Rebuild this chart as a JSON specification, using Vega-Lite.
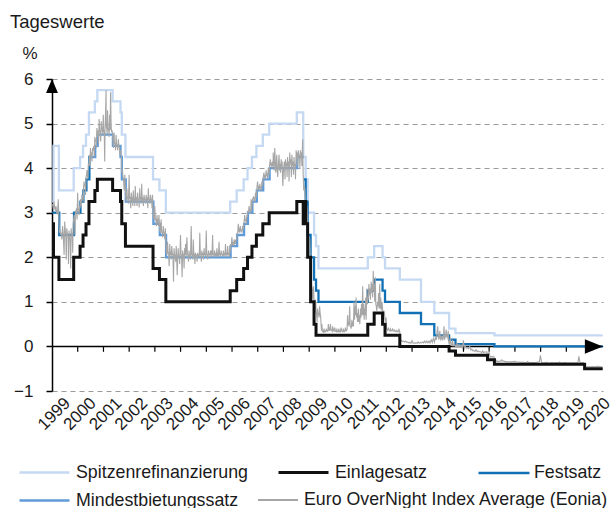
{
  "$schema": "https://vega.github.io/schema/vega-lite/v6.json",
  "width": 551,
  "height": 312,
  "autosize": {"type": "none"},
  "padding": {"left": 52, "top": 79, "right": 10, "bottom": 117},
  "config": {
    "font": "Liberation Sans",
    "view": {"stroke": null},
    "axis": {"labelFont": "Liberation Sans", "titleFont": "Liberation Sans", "labelColor": "#1a1a1a", "titleColor": "#1a1a1a"},
    "legend": {"labelFont": "Liberation Sans", "labelColor": "#1a1a1a"}
  },
  "title": {"text": "Tageswerte", "anchor": "start", "frame": "group", "fontSize": 18.5, "fontWeight": "normal", "color": "#1a1a1a", "dx": -42, "offset": 13},
  "datasets": {
    "steps": [
      {"d": "1999-01-04", "k": "Spitzenrefinanzierung", "v": 3.25},
      {"d": "1999-01-22", "k": "Spitzenrefinanzierung", "v": 4.5},
      {"d": "1999-04-09", "k": "Spitzenrefinanzierung", "v": 3.5},
      {"d": "1999-11-05", "k": "Spitzenrefinanzierung", "v": 4.0},
      {"d": "2000-02-04", "k": "Spitzenrefinanzierung", "v": 4.25},
      {"d": "2000-03-17", "k": "Spitzenrefinanzierung", "v": 4.5},
      {"d": "2000-04-28", "k": "Spitzenrefinanzierung", "v": 4.75},
      {"d": "2000-06-09", "k": "Spitzenrefinanzierung", "v": 5.25},
      {"d": "2000-09-01", "k": "Spitzenrefinanzierung", "v": 5.5},
      {"d": "2000-10-06", "k": "Spitzenrefinanzierung", "v": 5.75},
      {"d": "2001-05-11", "k": "Spitzenrefinanzierung", "v": 5.5},
      {"d": "2001-08-31", "k": "Spitzenrefinanzierung", "v": 5.25},
      {"d": "2001-09-18", "k": "Spitzenrefinanzierung", "v": 4.75},
      {"d": "2001-11-09", "k": "Spitzenrefinanzierung", "v": 4.25},
      {"d": "2002-12-06", "k": "Spitzenrefinanzierung", "v": 3.75},
      {"d": "2003-03-07", "k": "Spitzenrefinanzierung", "v": 3.5},
      {"d": "2003-06-06", "k": "Spitzenrefinanzierung", "v": 3.0},
      {"d": "2005-12-06", "k": "Spitzenrefinanzierung", "v": 3.25},
      {"d": "2006-03-08", "k": "Spitzenrefinanzierung", "v": 3.5},
      {"d": "2006-06-15", "k": "Spitzenrefinanzierung", "v": 3.75},
      {"d": "2006-08-09", "k": "Spitzenrefinanzierung", "v": 4.0},
      {"d": "2006-10-11", "k": "Spitzenrefinanzierung", "v": 4.25},
      {"d": "2006-12-13", "k": "Spitzenrefinanzierung", "v": 4.5},
      {"d": "2007-03-14", "k": "Spitzenrefinanzierung", "v": 4.75},
      {"d": "2007-06-13", "k": "Spitzenrefinanzierung", "v": 5.0},
      {"d": "2008-07-09", "k": "Spitzenrefinanzierung", "v": 5.25},
      {"d": "2008-10-08", "k": "Spitzenrefinanzierung", "v": 4.75},
      {"d": "2008-10-09", "k": "Spitzenrefinanzierung", "v": 4.25},
      {"d": "2008-11-12", "k": "Spitzenrefinanzierung", "v": 3.75},
      {"d": "2008-12-10", "k": "Spitzenrefinanzierung", "v": 3.0},
      {"d": "2009-03-11", "k": "Spitzenrefinanzierung", "v": 2.5},
      {"d": "2009-04-08", "k": "Spitzenrefinanzierung", "v": 2.25},
      {"d": "2009-05-13", "k": "Spitzenrefinanzierung", "v": 1.75},
      {"d": "2011-04-13", "k": "Spitzenrefinanzierung", "v": 2.0},
      {"d": "2011-07-13", "k": "Spitzenrefinanzierung", "v": 2.25},
      {"d": "2011-11-09", "k": "Spitzenrefinanzierung", "v": 2.0},
      {"d": "2011-12-14", "k": "Spitzenrefinanzierung", "v": 1.75},
      {"d": "2012-07-11", "k": "Spitzenrefinanzierung", "v": 1.5},
      {"d": "2013-05-08", "k": "Spitzenrefinanzierung", "v": 1.0},
      {"d": "2013-11-13", "k": "Spitzenrefinanzierung", "v": 0.75},
      {"d": "2014-06-11", "k": "Spitzenrefinanzierung", "v": 0.4},
      {"d": "2014-09-10", "k": "Spitzenrefinanzierung", "v": 0.3},
      {"d": "2016-03-16", "k": "Spitzenrefinanzierung", "v": 0.25},
      {"d": "2020-06-01", "k": "Spitzenrefinanzierung", "v": 0.25},
      {"d": "1999-01-04", "k": "Festsatz", "v": 3.0},
      {"d": "1999-04-14", "k": "Festsatz", "v": 2.5},
      {"d": "1999-11-10", "k": "Festsatz", "v": 3.0},
      {"d": "2000-02-09", "k": "Festsatz", "v": 3.25},
      {"d": "2000-03-22", "k": "Festsatz", "v": 3.5},
      {"d": "2000-05-04", "k": "Festsatz", "v": 3.75},
      {"d": "2000-06-15", "k": "Festsatz", "v": 4.25},
      {"d": "2000-06-28", "k": "Festsatz", "v": 4.25},
      {"d": "2000-06-29", "k": "Festsatz", "v": null},
      {"d": "2008-10-15", "k": "Festsatz", "v": 3.75},
      {"d": "2008-11-12", "k": "Festsatz", "v": 3.25},
      {"d": "2008-12-10", "k": "Festsatz", "v": 2.5},
      {"d": "2009-01-21", "k": "Festsatz", "v": 2.0},
      {"d": "2009-03-11", "k": "Festsatz", "v": 1.5},
      {"d": "2009-04-08", "k": "Festsatz", "v": 1.25},
      {"d": "2009-05-13", "k": "Festsatz", "v": 1.0},
      {"d": "2011-04-13", "k": "Festsatz", "v": 1.25},
      {"d": "2011-07-13", "k": "Festsatz", "v": 1.5},
      {"d": "2011-11-09", "k": "Festsatz", "v": 1.25},
      {"d": "2011-12-14", "k": "Festsatz", "v": 1.0},
      {"d": "2012-07-11", "k": "Festsatz", "v": 0.75},
      {"d": "2013-05-08", "k": "Festsatz", "v": 0.5},
      {"d": "2013-11-13", "k": "Festsatz", "v": 0.25},
      {"d": "2014-06-11", "k": "Festsatz", "v": 0.15},
      {"d": "2014-09-10", "k": "Festsatz", "v": 0.05},
      {"d": "2016-03-16", "k": "Festsatz", "v": 0.0},
      {"d": "2020-06-01", "k": "Festsatz", "v": 0.0},
      {"d": "1999-01-04", "k": "Einlagesatz", "v": 2.75},
      {"d": "1999-01-22", "k": "Einlagesatz", "v": 2.0},
      {"d": "1999-04-09", "k": "Einlagesatz", "v": 1.5},
      {"d": "1999-11-05", "k": "Einlagesatz", "v": 2.0},
      {"d": "2000-02-04", "k": "Einlagesatz", "v": 2.25},
      {"d": "2000-03-17", "k": "Einlagesatz", "v": 2.5},
      {"d": "2000-04-28", "k": "Einlagesatz", "v": 2.75},
      {"d": "2000-06-09", "k": "Einlagesatz", "v": 3.25},
      {"d": "2000-09-01", "k": "Einlagesatz", "v": 3.5},
      {"d": "2000-10-06", "k": "Einlagesatz", "v": 3.75},
      {"d": "2001-05-11", "k": "Einlagesatz", "v": 3.5},
      {"d": "2001-08-31", "k": "Einlagesatz", "v": 3.25},
      {"d": "2001-09-18", "k": "Einlagesatz", "v": 2.75},
      {"d": "2001-11-09", "k": "Einlagesatz", "v": 2.25},
      {"d": "2002-12-06", "k": "Einlagesatz", "v": 1.75},
      {"d": "2003-03-07", "k": "Einlagesatz", "v": 1.5},
      {"d": "2003-06-06", "k": "Einlagesatz", "v": 1.0},
      {"d": "2005-12-06", "k": "Einlagesatz", "v": 1.25},
      {"d": "2006-03-08", "k": "Einlagesatz", "v": 1.5},
      {"d": "2006-06-15", "k": "Einlagesatz", "v": 1.75},
      {"d": "2006-08-09", "k": "Einlagesatz", "v": 2.0},
      {"d": "2006-10-11", "k": "Einlagesatz", "v": 2.25},
      {"d": "2006-12-13", "k": "Einlagesatz", "v": 2.5},
      {"d": "2007-03-14", "k": "Einlagesatz", "v": 2.75},
      {"d": "2007-06-13", "k": "Einlagesatz", "v": 3.0},
      {"d": "2008-07-09", "k": "Einlagesatz", "v": 3.25},
      {"d": "2008-10-08", "k": "Einlagesatz", "v": 2.75},
      {"d": "2008-10-09", "k": "Einlagesatz", "v": 3.25},
      {"d": "2008-11-12", "k": "Einlagesatz", "v": 2.75},
      {"d": "2008-12-10", "k": "Einlagesatz", "v": 2.0},
      {"d": "2009-01-21", "k": "Einlagesatz", "v": 1.0},
      {"d": "2009-03-11", "k": "Einlagesatz", "v": 0.5},
      {"d": "2009-04-08", "k": "Einlagesatz", "v": 0.25},
      {"d": "2011-04-13", "k": "Einlagesatz", "v": 0.5},
      {"d": "2011-07-13", "k": "Einlagesatz", "v": 0.75},
      {"d": "2011-11-09", "k": "Einlagesatz", "v": 0.5},
      {"d": "2011-12-14", "k": "Einlagesatz", "v": 0.25},
      {"d": "2012-07-11", "k": "Einlagesatz", "v": 0.0},
      {"d": "2014-06-11", "k": "Einlagesatz", "v": -0.1},
      {"d": "2014-09-10", "k": "Einlagesatz", "v": -0.2},
      {"d": "2015-12-09", "k": "Einlagesatz", "v": -0.3},
      {"d": "2016-03-16", "k": "Einlagesatz", "v": -0.4},
      {"d": "2019-09-18", "k": "Einlagesatz", "v": -0.5},
      {"d": "2020-06-01", "k": "Einlagesatz", "v": -0.5},
      {"d": "2000-06-28", "k": "Mindestbietungssatz", "v": 4.25},
      {"d": "2000-09-06", "k": "Mindestbietungssatz", "v": 4.5},
      {"d": "2000-10-11", "k": "Mindestbietungssatz", "v": 4.75},
      {"d": "2001-05-15", "k": "Mindestbietungssatz", "v": 4.5},
      {"d": "2001-08-31", "k": "Mindestbietungssatz", "v": 4.25},
      {"d": "2001-09-19", "k": "Mindestbietungssatz", "v": 3.75},
      {"d": "2001-11-14", "k": "Mindestbietungssatz", "v": 3.25},
      {"d": "2002-12-11", "k": "Mindestbietungssatz", "v": 2.75},
      {"d": "2003-03-12", "k": "Mindestbietungssatz", "v": 2.5},
      {"d": "2003-06-09", "k": "Mindestbietungssatz", "v": 2.0},
      {"d": "2005-12-12", "k": "Mindestbietungssatz", "v": 2.25},
      {"d": "2006-03-14", "k": "Mindestbietungssatz", "v": 2.5},
      {"d": "2006-06-21", "k": "Mindestbietungssatz", "v": 2.75},
      {"d": "2006-08-15", "k": "Mindestbietungssatz", "v": 3.0},
      {"d": "2006-10-17", "k": "Mindestbietungssatz", "v": 3.25},
      {"d": "2006-12-19", "k": "Mindestbietungssatz", "v": 3.5},
      {"d": "2007-03-20", "k": "Mindestbietungssatz", "v": 3.75},
      {"d": "2007-06-19", "k": "Mindestbietungssatz", "v": 4.0},
      {"d": "2008-07-15", "k": "Mindestbietungssatz", "v": 4.25},
      {"d": "2008-10-15", "k": "Mindestbietungssatz", "v": 4.25}
    ],
    "eonia": [
      {"d":"1999-01-04","v":3.2},{"d":"1999-01-13","v":3.15},{"d":"1999-01-22","v":3.05},{"d":"1999-01-29","v":3.25},
      {"d":"1999-02-09","v":3.1},{"d":"1999-02-19","v":3.05},{"d":"1999-02-26","v":3.15},{"d":"1999-03-09","v":3.0},
      {"d":"1999-03-19","v":2.98},{"d":"1999-03-31","v":3.3},{"d":"1999-04-09","v":2.85},{"d":"1999-04-16","v":2.55},
      {"d":"1999-04-23","v":2.62},{"d":"1999-04-30","v":2.5},{"d":"1999-05-12","v":2.55},{"d":"1999-05-21","v":2.4},
      {"d":"1999-05-31","v":2.7},{"d":"1999-06-09","v":2.55},{"d":"1999-06-22","v":2.05},{"d":"1999-06-30","v":2.8},
      {"d":"1999-07-09","v":2.6},{"d":"1999-07-16","v":2.5},{"d":"1999-07-23","v":1.95},{"d":"1999-07-30","v":2.65},
      {"d":"1999-08-10","v":2.5},{"d":"1999-08-18","v":2.45},{"d":"1999-08-23","v":1.85},{"d":"1999-08-31","v":2.6},
      {"d":"1999-09-08","v":2.45},{"d":"1999-09-15","v":2.4},{"d":"1999-09-23","v":1.75},{"d":"1999-09-30","v":2.65},
      {"d":"1999-10-08","v":2.45},{"d":"1999-10-15","v":2.55},{"d":"1999-10-22","v":2.1},{"d":"1999-10-29","v":2.75},
      {"d":"1999-11-05","v":2.85},{"d":"1999-11-12","v":2.95},{"d":"1999-11-19","v":2.9},{"d":"1999-11-23","v":2.5},
      {"d":"1999-11-30","v":3.05},{"d":"1999-12-08","v":3.0},{"d":"1999-12-15","v":3.1},{"d":"1999-12-23","v":2.85},
      {"d":"1999-12-31","v":3.45},
      {"d":"2000-01-07","v":3.1},{"d":"2000-01-14","v":3.05},{"d":"2000-01-21","v":2.95},{"d":"2000-01-28","v":3.15},
      {"d":"2000-02-04","v":3.1},{"d":"2000-02-11","v":3.3},{"d":"2000-02-23","v":3.15},{"d":"2000-02-29","v":3.4},
      {"d":"2000-03-10","v":3.35},{"d":"2000-03-20","v":3.25},{"d":"2000-03-24","v":3.55},{"d":"2000-03-31","v":3.7},
      {"d":"2000-04-07","v":3.6},{"d":"2000-04-14","v":3.65},{"d":"2000-04-21","v":3.4},{"d":"2000-04-28","v":3.8},
      {"d":"2000-05-05","v":3.85},{"d":"2000-05-12","v":3.95},{"d":"2000-05-23","v":3.75},{"d":"2000-05-31","v":4.1},
      {"d":"2000-06-08","v":4.05},{"d":"2000-06-16","v":4.3},{"d":"2000-06-23","v":4.05},{"d":"2000-06-30","v":4.45},
      {"d":"2000-07-07","v":4.3},{"d":"2000-07-14","v":4.35},{"d":"2000-07-21","v":4.15},{"d":"2000-07-31","v":4.45},
      {"d":"2000-08-08","v":4.4},{"d":"2000-08-18","v":4.5},{"d":"2000-08-23","v":4.25},{"d":"2000-08-31","v":4.7},
      {"d":"2000-09-08","v":4.6},{"d":"2000-09-15","v":4.65},{"d":"2000-09-22","v":4.45},{"d":"2000-09-29","v":4.9},
      {"d":"2000-10-06","v":4.7},{"d":"2000-10-13","v":4.8},{"d":"2000-10-20","v":4.85},{"d":"2000-10-24","v":4.55},
      {"d":"2000-10-31","v":5.1},{"d":"2000-11-08","v":4.85},{"d":"2000-11-15","v":4.8},{"d":"2000-11-23","v":4.6},
      {"d":"2000-11-30","v":5.05},{"d":"2000-12-08","v":4.9},{"d":"2000-12-15","v":4.85},{"d":"2000-12-22","v":4.75},
      {"d":"2000-12-29","v":5.2},
      {"d":"2001-01-05","v":4.85},{"d":"2001-01-12","v":4.8},{"d":"2001-01-19","v":4.15},{"d":"2001-01-23","v":4.85},
      {"d":"2001-01-31","v":5.25},{"d":"2001-02-07","v":5.75},{"d":"2001-02-09","v":4.95},{"d":"2001-02-16","v":4.9},
      {"d":"2001-02-23","v":4.75},{"d":"2001-02-28","v":5.3},{"d":"2001-03-09","v":4.85},{"d":"2001-03-16","v":4.9},
      {"d":"2001-03-23","v":4.7},{"d":"2001-03-30","v":5.2},{"d":"2001-04-06","v":4.85},{"d":"2001-04-12","v":5.7},
      {"d":"2001-04-20","v":4.95},{"d":"2001-04-27","v":4.8},{"d":"2001-05-04","v":4.85},{"d":"2001-05-11","v":4.75},
      {"d":"2001-05-18","v":4.6},{"d":"2001-05-23","v":4.45},{"d":"2001-05-31","v":4.8},{"d":"2001-06-08","v":4.55},
      {"d":"2001-06-15","v":4.55},{"d":"2001-06-22","v":4.4},{"d":"2001-06-29","v":4.75},{"d":"2001-07-06","v":4.55},
      {"d":"2001-07-13","v":4.52},{"d":"2001-07-23","v":4.4},{"d":"2001-07-31","v":4.65},{"d":"2001-08-08","v":4.5},
      {"d":"2001-08-17","v":4.45},{"d":"2001-08-23","v":4.3},{"d":"2001-08-31","v":4.4},{"d":"2001-09-07","v":4.3},
      {"d":"2001-09-14","v":4.25},{"d":"2001-09-19","v":3.9},{"d":"2001-09-28","v":3.95},{"d":"2001-10-05","v":3.8},
      {"d":"2001-10-12","v":3.75},{"d":"2001-10-23","v":3.5},{"d":"2001-10-31","v":3.85},{"d":"2001-11-07","v":3.6},
      {"d":"2001-11-14","v":3.35},{"d":"2001-11-23","v":3.25},{"d":"2001-11-30","v":3.55},{"d":"2001-12-07","v":3.3},
      {"d":"2001-12-14","v":3.35},{"d":"2001-12-21","v":3.2},{"d":"2001-12-31","v":3.85},
      {"d":"2002-01-08","v":3.3},{"d":"2002-01-15","v":3.35},{"d":"2002-01-23","v":3.1},{"d":"2002-01-31","v":3.45},
      {"d":"2002-02-08","v":3.3},{"d":"2002-02-15","v":3.32},{"d":"2002-02-22","v":3.15},{"d":"2002-02-28","v":3.5},
      {"d":"2002-03-08","v":3.28},{"d":"2002-03-15","v":3.3},{"d":"2002-03-22","v":3.15},{"d":"2002-03-28","v":3.6},
      {"d":"2002-04-05","v":3.3},{"d":"2002-04-12","v":3.32},{"d":"2002-04-23","v":3.15},{"d":"2002-04-30","v":3.45},
      {"d":"2002-05-08","v":3.32},{"d":"2002-05-17","v":3.3},{"d":"2002-05-23","v":3.12},{"d":"2002-05-31","v":3.55},
      {"d":"2002-06-07","v":3.3},{"d":"2002-06-14","v":3.35},{"d":"2002-06-21","v":3.2},{"d":"2002-06-28","v":3.65},
      {"d":"2002-07-05","v":3.3},{"d":"2002-07-12","v":3.32},{"d":"2002-07-23","v":3.15},{"d":"2002-07-31","v":3.4},
      {"d":"2002-08-08","v":3.3},{"d":"2002-08-16","v":3.3},{"d":"2002-08-23","v":3.2},{"d":"2002-08-30","v":3.4},
      {"d":"2002-09-06","v":3.3},{"d":"2002-09-13","v":3.32},{"d":"2002-09-23","v":3.1},{"d":"2002-09-30","v":3.55},
      {"d":"2002-10-08","v":3.3},{"d":"2002-10-15","v":3.3},{"d":"2002-10-23","v":3.2},{"d":"2002-10-31","v":3.4},
      {"d":"2002-11-08","v":3.3},{"d":"2002-11-15","v":3.3},{"d":"2002-11-22","v":3.1},{"d":"2002-11-29","v":3.4},
      {"d":"2002-12-06","v":3.05},{"d":"2002-12-13","v":2.9},{"d":"2002-12-20","v":2.85},{"d":"2002-12-31","v":3.15},
      {"d":"2003-01-08","v":2.85},{"d":"2003-01-15","v":2.85},{"d":"2003-01-23","v":2.7},{"d":"2003-01-31","v":2.95},
      {"d":"2003-02-07","v":2.8},{"d":"2003-02-14","v":2.82},{"d":"2003-02-21","v":2.7},{"d":"2003-02-28","v":2.95},
      {"d":"2003-03-07","v":2.75},{"d":"2003-03-14","v":2.6},{"d":"2003-03-21","v":2.55},{"d":"2003-03-31","v":2.85},
      {"d":"2003-04-08","v":2.55},{"d":"2003-04-15","v":2.58},{"d":"2003-04-23","v":2.45},{"d":"2003-04-30","v":2.7},
      {"d":"2003-05-08","v":2.55},{"d":"2003-05-15","v":2.55},{"d":"2003-05-23","v":2.4},{"d":"2003-05-30","v":2.65},
      {"d":"2003-06-06","v":2.3},{"d":"2003-06-13","v":2.1},{"d":"2003-06-20","v":2.05},{"d":"2003-06-30","v":2.35},
      {"d":"2003-07-08","v":2.1},{"d":"2003-07-15","v":2.1},{"d":"2003-07-23","v":1.8},{"d":"2003-07-31","v":2.3},
      {"d":"2003-08-08","v":2.08},{"d":"2003-08-15","v":2.1},{"d":"2003-08-22","v":1.95},{"d":"2003-08-29","v":2.25},
      {"d":"2003-09-08","v":2.05},{"d":"2003-09-15","v":2.08},{"d":"2003-09-23","v":1.45},{"d":"2003-09-30","v":2.2},
      {"d":"2003-10-08","v":2.05},{"d":"2003-10-15","v":2.05},{"d":"2003-10-23","v":1.9},{"d":"2003-10-31","v":2.25},
      {"d":"2003-11-07","v":2.0},{"d":"2003-11-14","v":1.6},{"d":"2003-11-21","v":1.95},{"d":"2003-11-28","v":2.2},
      {"d":"2003-12-05","v":2.0},{"d":"2003-12-12","v":2.05},{"d":"2003-12-19","v":1.85},{"d":"2003-12-31","v":2.5},
      {"d":"2004-01-08","v":2.05},{"d":"2004-01-15","v":2.05},{"d":"2004-01-23","v":1.55},{"d":"2004-01-30","v":2.15},
      {"d":"2004-02-06","v":2.05},{"d":"2004-02-13","v":2.08},{"d":"2004-02-20","v":1.75},{"d":"2004-02-27","v":2.2},
      {"d":"2004-03-05","v":2.05},{"d":"2004-03-12","v":2.3},{"d":"2004-03-19","v":2.0},{"d":"2004-03-31","v":2.45},
      {"d":"2004-04-08","v":2.05},{"d":"2004-04-15","v":2.05},{"d":"2004-04-23","v":1.9},{"d":"2004-04-30","v":2.15},
      {"d":"2004-05-07","v":2.05},{"d":"2004-05-14","v":2.05},{"d":"2004-05-21","v":1.95},{"d":"2004-05-31","v":2.7},
      {"d":"2004-06-08","v":2.05},{"d":"2004-06-15","v":2.05},{"d":"2004-06-23","v":1.95},{"d":"2004-06-30","v":2.4},
      {"d":"2004-07-08","v":2.05},{"d":"2004-07-15","v":2.06},{"d":"2004-07-23","v":1.85},{"d":"2004-07-30","v":2.1},
      {"d":"2004-08-06","v":2.05},{"d":"2004-08-13","v":2.05},{"d":"2004-08-23","v":1.9},{"d":"2004-08-31","v":2.1},
      {"d":"2004-09-08","v":2.04},{"d":"2004-09-15","v":2.05},{"d":"2004-09-23","v":2.0},{"d":"2004-09-30","v":2.55},
      {"d":"2004-10-08","v":2.05},{"d":"2004-10-15","v":2.08},{"d":"2004-10-22","v":1.9},{"d":"2004-10-29","v":2.15},
      {"d":"2004-11-05","v":2.05},{"d":"2004-11-12","v":2.1},{"d":"2004-11-23","v":1.95},{"d":"2004-11-30","v":2.2},
      {"d":"2004-12-08","v":2.05},{"d":"2004-12-15","v":2.08},{"d":"2004-12-22","v":2.0},{"d":"2004-12-31","v":2.6},
      {"d":"2005-01-07","v":2.05},{"d":"2005-01-14","v":2.08},{"d":"2005-01-21","v":1.95},{"d":"2005-01-31","v":2.15},
      {"d":"2005-02-08","v":2.05},{"d":"2005-02-15","v":2.08},{"d":"2005-02-22","v":2.0},{"d":"2005-02-28","v":2.15},
      {"d":"2005-03-08","v":2.05},{"d":"2005-03-15","v":2.15},{"d":"2005-03-22","v":2.0},{"d":"2005-03-31","v":2.5},
      {"d":"2005-04-08","v":2.05},{"d":"2005-04-15","v":2.08},{"d":"2005-04-22","v":2.0},{"d":"2005-04-29","v":2.15},
      {"d":"2005-05-06","v":2.05},{"d":"2005-05-13","v":2.07},{"d":"2005-05-23","v":2.02},{"d":"2005-05-31","v":2.2},
      {"d":"2005-06-08","v":2.05},{"d":"2005-06-15","v":2.07},{"d":"2005-06-22","v":2.0},{"d":"2005-06-30","v":2.35},
      {"d":"2005-07-08","v":2.06},{"d":"2005-07-15","v":2.07},{"d":"2005-07-22","v":2.03},{"d":"2005-07-29","v":2.15},
      {"d":"2005-08-08","v":2.06},{"d":"2005-08-15","v":2.06},{"d":"2005-08-23","v":2.02},{"d":"2005-08-31","v":2.15},
      {"d":"2005-09-08","v":2.06},{"d":"2005-09-15","v":2.08},{"d":"2005-09-23","v":2.02},{"d":"2005-09-30","v":2.3},
      {"d":"2005-10-07","v":2.07},{"d":"2005-10-14","v":2.08},{"d":"2005-10-21","v":2.02},{"d":"2005-10-31","v":2.25},
      {"d":"2005-11-08","v":2.05},{"d":"2005-11-15","v":2.1},{"d":"2005-11-23","v":2.0},{"d":"2005-11-30","v":2.25},
      {"d":"2005-12-06","v":2.1},{"d":"2005-12-13","v":2.3},{"d":"2005-12-20","v":2.25},{"d":"2005-12-30","v":2.45},
      {"d":"2006-01-06","v":2.3},{"d":"2006-01-13","v":2.32},{"d":"2006-01-23","v":2.25},{"d":"2006-01-31","v":2.4},
      {"d":"2006-02-08","v":2.32},{"d":"2006-02-15","v":2.35},{"d":"2006-02-22","v":2.3},{"d":"2006-02-28","v":2.4},
      {"d":"2006-03-08","v":2.4},{"d":"2006-03-15","v":2.55},{"d":"2006-03-22","v":2.52},{"d":"2006-03-31","v":2.75},
      {"d":"2006-04-07","v":2.6},{"d":"2006-04-14","v":2.62},{"d":"2006-04-21","v":2.55},{"d":"2006-04-28","v":2.7},
      {"d":"2006-05-08","v":2.58},{"d":"2006-05-15","v":2.62},{"d":"2006-05-23","v":2.55},{"d":"2006-05-31","v":2.7},
      {"d":"2006-06-08","v":2.62},{"d":"2006-06-15","v":2.7},{"d":"2006-06-22","v":2.8},{"d":"2006-06-30","v":2.95},
      {"d":"2006-07-07","v":2.82},{"d":"2006-07-14","v":2.85},{"d":"2006-07-21","v":2.75},{"d":"2006-07-31","v":2.95},
      {"d":"2006-08-08","v":2.9},{"d":"2006-08-15","v":3.05},{"d":"2006-08-23","v":3.0},{"d":"2006-08-31","v":3.15},
      {"d":"2006-09-08","v":3.05},{"d":"2006-09-15","v":3.05},{"d":"2006-09-22","v":3.0},{"d":"2006-09-29","v":3.3},
      {"d":"2006-10-06","v":3.05},{"d":"2006-10-13","v":3.2},{"d":"2006-10-20","v":3.3},{"d":"2006-10-31","v":3.35},
      {"d":"2006-11-08","v":3.3},{"d":"2006-11-15","v":3.32},{"d":"2006-11-23","v":3.25},{"d":"2006-11-30","v":3.45},
      {"d":"2006-12-08","v":3.33},{"d":"2006-12-15","v":3.4},{"d":"2006-12-20","v":3.55},{"d":"2006-12-29","v":3.7},
      {"d":"2007-01-08","v":3.55},{"d":"2007-01-15","v":3.57},{"d":"2007-01-23","v":3.5},{"d":"2007-01-31","v":3.65},
      {"d":"2007-02-08","v":3.55},{"d":"2007-02-15","v":3.58},{"d":"2007-02-22","v":3.5},{"d":"2007-02-28","v":3.7},
      {"d":"2007-03-08","v":3.6},{"d":"2007-03-15","v":3.65},{"d":"2007-03-21","v":3.8},{"d":"2007-03-30","v":3.9},
      {"d":"2007-04-06","v":3.8},{"d":"2007-04-13","v":3.82},{"d":"2007-04-23","v":3.75},{"d":"2007-04-30","v":3.95},
      {"d":"2007-05-08","v":3.82},{"d":"2007-05-15","v":3.85},{"d":"2007-05-23","v":3.78},{"d":"2007-05-31","v":4.0},
      {"d":"2007-06-08","v":3.85},{"d":"2007-06-15","v":3.95},{"d":"2007-06-20","v":4.08},{"d":"2007-06-29","v":4.2},
      {"d":"2007-07-06","v":4.08},{"d":"2007-07-13","v":4.1},{"d":"2007-07-23","v":4.0},{"d":"2007-07-31","v":4.15},
      {"d":"2007-08-08","v":4.05},{"d":"2007-08-09","v":4.35},{"d":"2007-08-14","v":4.1},{"d":"2007-08-21","v":3.95},
      {"d":"2007-08-31","v":4.45},{"d":"2007-09-07","v":4.15},{"d":"2007-09-14","v":3.9},{"d":"2007-09-21","v":4.05},
      {"d":"2007-09-28","v":4.3},{"d":"2007-10-05","v":3.95},{"d":"2007-10-12","v":3.8},{"d":"2007-10-19","v":4.05},
      {"d":"2007-10-31","v":4.3},{"d":"2007-11-07","v":3.95},{"d":"2007-11-14","v":4.1},{"d":"2007-11-21","v":3.9},
      {"d":"2007-11-30","v":4.2},{"d":"2007-12-07","v":4.0},{"d":"2007-12-14","v":4.15},{"d":"2007-12-19","v":3.8},
      {"d":"2007-12-24","v":3.6},{"d":"2007-12-31","v":3.92},
      {"d":"2008-01-08","v":4.05},{"d":"2008-01-15","v":4.15},{"d":"2008-01-23","v":3.75},{"d":"2008-01-31","v":4.2},
      {"d":"2008-02-08","v":4.05},{"d":"2008-02-15","v":4.12},{"d":"2008-02-22","v":3.8},{"d":"2008-02-29","v":4.25},
      {"d":"2008-03-07","v":4.05},{"d":"2008-03-14","v":4.15},{"d":"2008-03-21","v":3.7},{"d":"2008-03-31","v":4.35},
      {"d":"2008-04-08","v":4.1},{"d":"2008-04-15","v":4.2},{"d":"2008-04-23","v":3.8},{"d":"2008-04-30","v":4.3},
      {"d":"2008-05-08","v":4.05},{"d":"2008-05-15","v":4.15},{"d":"2008-05-23","v":3.85},{"d":"2008-05-30","v":4.25},
      {"d":"2008-06-06","v":4.05},{"d":"2008-06-13","v":4.1},{"d":"2008-06-20","v":3.75},{"d":"2008-06-30","v":4.4},
      {"d":"2008-07-08","v":4.2},{"d":"2008-07-15","v":4.35},{"d":"2008-07-23","v":4.05},{"d":"2008-07-31","v":4.4},
      {"d":"2008-08-08","v":4.25},{"d":"2008-08-15","v":4.3},{"d":"2008-08-22","v":4.0},{"d":"2008-08-29","v":4.4},
      {"d":"2008-09-05","v":4.3},{"d":"2008-09-12","v":4.35},{"d":"2008-09-19","v":4.05},{"d":"2008-09-26","v":4.45},
      {"d":"2008-09-30","v":4.65},{"d":"2008-10-06","v":4.0},{"d":"2008-10-09","v":3.8},{"d":"2008-10-15","v":3.5},
      {"d":"2008-10-23","v":3.6},{"d":"2008-10-31","v":3.55},{"d":"2008-11-07","v":3.3},{"d":"2008-11-14","v":3.1},
      {"d":"2008-11-21","v":3.2},{"d":"2008-11-28","v":3.15},{"d":"2008-12-05","v":3.05},{"d":"2008-12-12","v":2.45},
      {"d":"2008-12-19","v":2.3},{"d":"2008-12-31","v":2.4},
      {"d":"2009-01-08","v":2.4},{"d":"2009-01-15","v":2.1},{"d":"2009-01-22","v":1.3},{"d":"2009-01-30","v":1.55},
      {"d":"2009-02-06","v":1.3},{"d":"2009-02-13","v":1.25},{"d":"2009-02-20","v":1.05},{"d":"2009-02-27","v":1.35},
      {"d":"2009-03-06","v":1.25},{"d":"2009-03-13","v":0.95},{"d":"2009-03-20","v":0.75},{"d":"2009-03-31","v":1.05},
      {"d":"2009-04-08","v":0.85},{"d":"2009-04-15","v":0.7},{"d":"2009-04-23","v":0.55},{"d":"2009-04-30","v":0.85},
      {"d":"2009-05-08","v":0.75},{"d":"2009-05-15","v":0.7},{"d":"2009-05-22","v":0.65},{"d":"2009-05-29","v":0.9},
      {"d":"2009-06-05","v":0.75},{"d":"2009-06-12","v":0.68},{"d":"2009-06-24","v":0.35},{"d":"2009-06-30","v":0.5},
      {"d":"2009-07-08","v":0.34},{"d":"2009-07-15","v":0.33},{"d":"2009-07-23","v":0.32},{"d":"2009-07-31","v":0.4},
      {"d":"2009-08-07","v":0.33},{"d":"2009-08-14","v":0.34},{"d":"2009-08-21","v":0.33},{"d":"2009-08-31","v":0.38},
      {"d":"2009-09-07","v":0.35},{"d":"2009-09-14","v":0.36},{"d":"2009-09-22","v":0.33},{"d":"2009-09-30","v":0.5},
      {"d":"2009-10-07","v":0.38},{"d":"2009-10-14","v":0.4},{"d":"2009-10-21","v":0.35},{"d":"2009-10-30","v":0.5},
      {"d":"2009-11-06","v":0.37},{"d":"2009-11-13","v":0.37},{"d":"2009-11-23","v":0.34},{"d":"2009-11-30","v":0.45},
      {"d":"2009-12-07","v":0.37},{"d":"2009-12-14","v":0.38},{"d":"2009-12-21","v":0.33},{"d":"2009-12-31","v":0.42},
      {"d":"2010-01-08","v":0.34},{"d":"2010-01-15","v":0.34},{"d":"2010-01-22","v":0.33},{"d":"2010-01-29","v":0.4},
      {"d":"2010-02-05","v":0.33},{"d":"2010-02-12","v":0.33},{"d":"2010-02-19","v":0.33},{"d":"2010-02-26","v":0.4},
      {"d":"2010-03-05","v":0.33},{"d":"2010-03-12","v":0.34},{"d":"2010-03-19","v":0.33},{"d":"2010-03-31","v":0.42},
      {"d":"2010-04-08","v":0.34},{"d":"2010-04-15","v":0.34},{"d":"2010-04-23","v":0.33},{"d":"2010-04-30","v":0.4},
      {"d":"2010-05-07","v":0.34},{"d":"2010-05-14","v":0.33},{"d":"2010-05-21","v":0.34},{"d":"2010-05-31","v":0.42},
      {"d":"2010-06-08","v":0.35},{"d":"2010-06-15","v":0.36},{"d":"2010-06-23","v":0.38},{"d":"2010-06-30","v":0.7},
      {"d":"2010-07-07","v":0.45},{"d":"2010-07-14","v":0.55},{"d":"2010-07-21","v":0.48},{"d":"2010-07-30","v":0.9},
      {"d":"2010-08-06","v":0.45},{"d":"2010-08-13","v":0.45},{"d":"2010-08-20","v":0.4},{"d":"2010-08-31","v":0.6},
      {"d":"2010-09-07","v":0.45},{"d":"2010-09-14","v":0.55},{"d":"2010-09-21","v":0.45},{"d":"2010-09-30","v":1.0},
      {"d":"2010-10-07","v":0.6},{"d":"2010-10-14","v":0.9},{"d":"2010-10-21","v":0.7},{"d":"2010-10-29","v":1.1},
      {"d":"2010-11-05","v":0.65},{"d":"2010-11-12","v":0.75},{"d":"2010-11-19","v":0.55},{"d":"2010-11-30","v":0.85},
      {"d":"2010-12-07","v":0.55},{"d":"2010-12-14","v":0.7},{"d":"2010-12-21","v":0.5},{"d":"2010-12-31","v":0.85},
      {"d":"2011-01-07","v":0.65},{"d":"2011-01-14","v":0.95},{"d":"2011-01-21","v":0.7},{"d":"2011-01-31","v":1.35},
      {"d":"2011-02-07","v":0.7},{"d":"2011-02-14","v":0.95},{"d":"2011-02-21","v":0.6},{"d":"2011-02-28","v":0.85},
      {"d":"2011-03-07","v":0.7},{"d":"2011-03-14","v":1.1},{"d":"2011-03-21","v":0.6},{"d":"2011-03-31","v":1.3},
      {"d":"2011-04-08","v":0.95},{"d":"2011-04-15","v":1.1},{"d":"2011-04-21","v":1.05},{"d":"2011-04-29","v":1.4},
      {"d":"2011-05-06","v":1.15},{"d":"2011-05-13","v":1.3},{"d":"2011-05-20","v":1.05},{"d":"2011-05-31","v":1.45},
      {"d":"2011-06-07","v":1.2},{"d":"2011-06-14","v":1.4},{"d":"2011-06-21","v":1.1},{"d":"2011-06-30","v":1.7},
      {"d":"2011-07-07","v":1.25},{"d":"2011-07-14","v":1.4},{"d":"2011-07-21","v":1.0},{"d":"2011-07-29","v":1.55},
      {"d":"2011-08-05","v":0.95},{"d":"2011-08-12","v":0.9},{"d":"2011-08-19","v":0.8},{"d":"2011-08-31","v":1.0},
      {"d":"2011-09-07","v":0.9},{"d":"2011-09-14","v":1.2},{"d":"2011-09-21","v":0.85},{"d":"2011-09-30","v":1.4},
      {"d":"2011-10-07","v":0.85},{"d":"2011-10-14","v":1.1},{"d":"2011-10-21","v":0.8},{"d":"2011-10-31","v":1.0},
      {"d":"2011-11-07","v":0.9},{"d":"2011-11-14","v":0.75},{"d":"2011-11-21","v":0.7},{"d":"2011-11-30","v":0.8},
      {"d":"2011-12-07","v":0.75},{"d":"2011-12-14","v":0.6},{"d":"2011-12-21","v":0.55},{"d":"2011-12-30","v":0.65},
      {"d":"2012-01-06","v":0.4},{"d":"2012-01-13","v":0.38},{"d":"2012-01-20","v":0.36},{"d":"2012-01-31","v":0.42},
      {"d":"2012-02-07","v":0.37},{"d":"2012-02-14","v":0.37},{"d":"2012-02-21","v":0.35},{"d":"2012-02-29","v":0.39},
      {"d":"2012-03-07","v":0.35},{"d":"2012-03-14","v":0.36},{"d":"2012-03-21","v":0.35},{"d":"2012-03-30","v":0.39},
      {"d":"2012-04-10","v":0.35},{"d":"2012-04-20","v":0.34},{"d":"2012-04-30","v":0.37},{"d":"2012-05-10","v":0.34},
      {"d":"2012-05-21","v":0.33},{"d":"2012-05-31","v":0.36},{"d":"2012-06-08","v":0.33},{"d":"2012-06-20","v":0.33},
      {"d":"2012-06-29","v":0.38},{"d":"2012-07-11","v":0.33},{"d":"2012-07-12","v":0.13},{"d":"2012-07-20","v":0.12},
      {"d":"2012-07-31","v":0.14},{"d":"2012-08-15","v":0.11},{"d":"2012-08-31","v":0.12},{"d":"2012-09-14","v":0.1},
      {"d":"2012-09-28","v":0.12},{"d":"2012-10-15","v":0.09},{"d":"2012-10-31","v":0.1},{"d":"2012-11-15","v":0.08},
      {"d":"2012-11-30","v":0.09},{"d":"2012-12-14","v":0.07},{"d":"2012-12-31","v":0.13},
      {"d":"2013-01-15","v":0.07},{"d":"2013-01-31","v":0.08},{"d":"2013-02-15","v":0.07},{"d":"2013-02-28","v":0.08},
      {"d":"2013-03-15","v":0.07},{"d":"2013-03-28","v":0.1},{"d":"2013-04-15","v":0.07},{"d":"2013-04-30","v":0.09},
      {"d":"2013-05-15","v":0.08},{"d":"2013-05-31","v":0.1},{"d":"2013-06-14","v":0.08},{"d":"2013-06-28","v":0.12},
      {"d":"2013-07-15","v":0.08},{"d":"2013-07-31","v":0.12},{"d":"2013-08-15","v":0.08},{"d":"2013-08-30","v":0.12},
      {"d":"2013-09-13","v":0.08},{"d":"2013-09-30","v":0.15},{"d":"2013-10-15","v":0.09},{"d":"2013-10-31","v":0.18},
      {"d":"2013-11-15","v":0.1},{"d":"2013-11-29","v":0.2},{"d":"2013-12-13","v":0.15},{"d":"2013-12-20","v":0.3},
      {"d":"2013-12-31","v":0.45},
      {"d":"2014-01-10","v":0.2},{"d":"2014-01-17","v":0.15},{"d":"2014-01-24","v":0.25},{"d":"2014-01-31","v":0.35},
      {"d":"2014-02-07","v":0.18},{"d":"2014-02-14","v":0.15},{"d":"2014-02-21","v":0.2},{"d":"2014-02-28","v":0.25},
      {"d":"2014-03-07","v":0.17},{"d":"2014-03-14","v":0.15},{"d":"2014-03-21","v":0.2},{"d":"2014-03-31","v":0.45},
      {"d":"2014-04-08","v":0.15},{"d":"2014-04-15","v":0.2},{"d":"2014-04-23","v":0.25},{"d":"2014-04-30","v":0.38},
      {"d":"2014-05-08","v":0.24},{"d":"2014-05-15","v":0.2},{"d":"2014-05-23","v":0.25},{"d":"2014-05-30","v":0.35},
      {"d":"2014-06-06","v":0.1},{"d":"2014-06-13","v":0.05},{"d":"2014-06-20","v":0.08},{"d":"2014-06-30","v":0.2},
      {"d":"2014-07-08","v":0.04},{"d":"2014-07-15","v":0.05},{"d":"2014-07-23","v":0.03},{"d":"2014-07-31","v":0.15},
      {"d":"2014-08-08","v":0.02},{"d":"2014-08-15","v":0.01},{"d":"2014-08-22","v":0.03},{"d":"2014-08-29","v":0.05},
      {"d":"2014-09-08","v":0.0},{"d":"2014-09-15","v":0.0},{"d":"2014-09-22","v":-0.01},{"d":"2014-09-30","v":0.08},
      {"d":"2014-10-08","v":-0.01},{"d":"2014-10-15","v":-0.01},{"d":"2014-10-23","v":-0.01},{"d":"2014-10-31","v":0.06},
      {"d":"2014-11-07","v":-0.01},{"d":"2014-11-14","v":-0.01},{"d":"2014-11-21","v":-0.01},{"d":"2014-11-28","v":0.02},
      {"d":"2014-12-05","v":-0.02},{"d":"2014-12-12","v":-0.01},{"d":"2014-12-19","v":-0.03},{"d":"2014-12-31","v":0.14},
      {"d":"2015-01-15","v":-0.05},{"d":"2015-01-30","v":0.0},{"d":"2015-02-13","v":-0.04},{"d":"2015-02-27","v":-0.02},
      {"d":"2015-03-13","v":-0.05},{"d":"2015-03-31","v":0.0},{"d":"2015-04-15","v":-0.08},{"d":"2015-04-30","v":-0.06},
      {"d":"2015-05-15","v":-0.1},{"d":"2015-05-29","v":-0.09},{"d":"2015-06-15","v":-0.11},{"d":"2015-06-30","v":-0.07},
      {"d":"2015-07-15","v":-0.12},{"d":"2015-07-31","v":-0.1},{"d":"2015-08-14","v":-0.12},{"d":"2015-08-31","v":-0.12},
      {"d":"2015-09-15","v":-0.14},{"d":"2015-09-30","v":-0.1},{"d":"2015-10-15","v":-0.14},{"d":"2015-10-30","v":-0.12},
      {"d":"2015-11-13","v":-0.13},{"d":"2015-11-30","v":-0.12},{"d":"2015-12-09","v":-0.2},{"d":"2015-12-15","v":-0.2},
      {"d":"2015-12-31","v":-0.13},
      {"d":"2016-01-15","v":-0.24},{"d":"2016-01-29","v":-0.23},{"d":"2016-02-15","v":-0.24},{"d":"2016-02-29","v":-0.22},
      {"d":"2016-03-11","v":-0.24},{"d":"2016-03-16","v":-0.31},{"d":"2016-03-31","v":-0.29},{"d":"2016-04-15","v":-0.34},
      {"d":"2016-04-29","v":-0.33},{"d":"2016-05-13","v":-0.34},{"d":"2016-05-31","v":-0.33},{"d":"2016-06-15","v":-0.33},
      {"d":"2016-06-30","v":-0.3},{"d":"2016-07-15","v":-0.33},{"d":"2016-07-29","v":-0.33},{"d":"2016-08-15","v":-0.34},
      {"d":"2016-08-31","v":-0.34},{"d":"2016-09-15","v":-0.35},{"d":"2016-09-30","v":-0.34},{"d":"2016-10-14","v":-0.35},
      {"d":"2016-10-31","v":-0.34},{"d":"2016-11-15","v":-0.35},{"d":"2016-11-30","v":-0.34},{"d":"2016-12-15","v":-0.35},
      {"d":"2016-12-30","v":-0.33},
      {"d":"2017-01-13","v":-0.35},{"d":"2017-01-31","v":-0.35},{"d":"2017-02-15","v":-0.35},{"d":"2017-02-28","v":-0.35},
      {"d":"2017-03-15","v":-0.36},{"d":"2017-03-31","v":-0.35},{"d":"2017-04-14","v":-0.36},{"d":"2017-04-28","v":-0.35},
      {"d":"2017-05-15","v":-0.36},{"d":"2017-05-31","v":-0.36},{"d":"2017-06-15","v":-0.36},{"d":"2017-06-30","v":-0.34},
      {"d":"2017-07-14","v":-0.36},{"d":"2017-07-31","v":-0.36},{"d":"2017-08-15","v":-0.36},{"d":"2017-08-31","v":-0.36},
      {"d":"2017-09-15","v":-0.36},{"d":"2017-09-29","v":-0.36},{"d":"2017-10-13","v":-0.36},{"d":"2017-10-31","v":-0.36},
      {"d":"2017-11-15","v":-0.35},{"d":"2017-11-30","v":-0.35},{"d":"2017-12-15","v":-0.34},{"d":"2017-12-29","v":-0.2},
      {"d":"2018-01-15","v":-0.36},{"d":"2018-01-31","v":-0.36},{"d":"2018-02-15","v":-0.37},{"d":"2018-02-28","v":-0.36},
      {"d":"2018-03-15","v":-0.36},{"d":"2018-03-29","v":-0.35},{"d":"2018-04-13","v":-0.37},{"d":"2018-04-30","v":-0.37},
      {"d":"2018-05-15","v":-0.37},{"d":"2018-05-31","v":-0.36},{"d":"2018-06-15","v":-0.36},{"d":"2018-06-29","v":-0.36},
      {"d":"2018-07-13","v":-0.37},{"d":"2018-07-31","v":-0.36},{"d":"2018-08-15","v":-0.36},{"d":"2018-08-31","v":-0.36},
      {"d":"2018-09-14","v":-0.37},{"d":"2018-09-28","v":-0.35},{"d":"2018-10-15","v":-0.37},{"d":"2018-10-31","v":-0.37},
      {"d":"2018-11-15","v":-0.36},{"d":"2018-11-30","v":-0.36},{"d":"2018-12-14","v":-0.36},{"d":"2018-12-31","v":-0.36},
      {"d":"2019-01-15","v":-0.37},{"d":"2019-01-31","v":-0.37},{"d":"2019-02-15","v":-0.37},{"d":"2019-02-28","v":-0.37},
      {"d":"2019-03-15","v":-0.37},{"d":"2019-03-29","v":-0.36},{"d":"2019-04-15","v":-0.37},{"d":"2019-04-30","v":-0.37},
      {"d":"2019-05-15","v":-0.37},{"d":"2019-05-31","v":-0.36},{"d":"2019-06-14","v":-0.37},{"d":"2019-06-28","v":-0.22},
      {"d":"2019-07-15","v":-0.37},{"d":"2019-07-31","v":-0.37},{"d":"2019-08-15","v":-0.36},{"d":"2019-08-30","v":-0.36},
      {"d":"2019-09-13","v":-0.4},{"d":"2019-09-18","v":-0.45},{"d":"2019-09-30","v":-0.46},{"d":"2019-10-15","v":-0.46},
      {"d":"2019-10-31","v":-0.45},{"d":"2019-11-15","v":-0.46},{"d":"2019-11-29","v":-0.45},{"d":"2019-12-13","v":-0.46},
      {"d":"2019-12-31","v":-0.45},
      {"d":"2020-01-15","v":-0.45},{"d":"2020-01-31","v":-0.46},{"d":"2020-02-14","v":-0.45},{"d":"2020-02-28","v":-0.45},
      {"d":"2020-03-13","v":-0.45},{"d":"2020-03-31","v":-0.44},{"d":"2020-04-15","v":-0.46},{"d":"2020-04-30","v":-0.45},
      {"d":"2020-05-15","v":-0.46},{"d":"2020-05-29","v":-0.46}
    ],
    "years": [
      {"yr":"1999-01-01","t":"1999"},{"yr":"2000-01-01","t":"2000"},{"yr":"2001-01-01","t":"2001"},{"yr":"2002-01-01","t":"2002"},
      {"yr":"2003-01-01","t":"2003"},{"yr":"2004-01-01","t":"2004"},{"yr":"2005-01-01","t":"2005"},{"yr":"2006-01-01","t":"2006"},
      {"yr":"2007-01-01","t":"2007"},{"yr":"2008-01-01","t":"2008"},{"yr":"2009-01-01","t":"2009"},{"yr":"2010-01-01","t":"2010"},
      {"yr":"2011-01-01","t":"2011"},{"yr":"2012-01-01","t":"2012"},{"yr":"2013-01-01","t":"2013"},{"yr":"2014-01-01","t":"2014"},
      {"yr":"2015-01-01","t":"2015"},{"yr":"2016-01-01","t":"2016"},{"yr":"2017-01-01","t":"2017"},{"yr":"2018-01-01","t":"2018"},
      {"yr":"2019-01-01","t":"2019"},{"yr":"2020-01-01","t":"2020"}
    ]
  },
  "layer": [
    {
      "data": {"values": [{}]},
      "mark": {"type": "rule", "color": "#000000", "strokeWidth": 1.5},
      "encoding": {"y": {"datum": 0}}
    },
    {
      "data": {"name": "years"},
      "transform": [{"filter": "datum.t !== '1999' && datum.t !== '2020'"}],
      "mark": {"type": "rule", "color": "#000000", "strokeWidth": 1.2},
      "encoding": {
        "x": {"field": "yr", "type": "temporal", "title": null},
        "y": {"datum": 0},
        "y2": {"datum": -0.12}
      }
    },
    {
      "data": {"name": "steps"},
      "transform": [{"filter": "datum.k === 'Spitzenrefinanzierung'"}],
      "mark": {"type": "line", "interpolate": "step-after", "strokeWidth": 2.3},
      "encoding": {
        "x": {
          "field": "d", "type": "temporal", "title": null,
          "scale": {"type": "utc", "domain": [{"year": 1999, "month": 1, "date": 1, "utc": true}, {"year": 2020, "month": 6, "date": 5, "utc": true}]},
          "axis": {"labels": false, "domain": false, "ticks": false, "grid": false}
        },
        "y": {
          "field": "v", "type": "quantitative",
          "scale": {"domain": [-1, 6], "nice": false, "zero": false},
          "axis": {
            "values": [-1, 0, 1, 2, 3, 4, 5, 6], "grid": true, "gridDash": [5, 4], "gridColor": "#9a9a9a", "gridWidth": 1,
            "domainColor": "#000000", "domainWidth": 1.5, "tickColor": "#000000", "tickSize": 6, "tickWidth": 1.5,
            "labelFontSize": 17, "labelPadding": 13,
            "title": "%", "titleAngle": 0, "titleFontSize": 17, "titleFontWeight": "normal",
            "titleX": -30, "titleY": -21, "titleAlign": "left", "titleBaseline": "alphabetic"
          }
        },
        "color": {
          "field": "k", "type": "nominal",
          "scale": {"domain": ["Spitzenrefinanzierung"], "range": ["#c5d9f2"]},
          "legend": {"title": null, "orient": "none", "legendX": -34, "legendY": 367, "direction": "horizontal", "symbolType": "stroke", "symbolSize": 2500, "symbolStrokeWidth": 2.5, "labelFontSize": 17.8, "labelOffset": 5, "labelLimit": 400}
        }
      }
    },
    {
      "data": {"name": "steps"},
      "transform": [{"filter": "datum.k === 'Mindestbietungssatz'"}],
      "mark": {"type": "line", "interpolate": "step-after", "strokeWidth": 2.3},
      "encoding": {
        "x": {"field": "d", "type": "temporal", "title": null},
        "y": {"field": "v", "type": "quantitative"},
        "color": {
          "field": "k", "type": "nominal",
          "scale": {"domain": ["Mindestbietungssatz"], "range": ["#5f9bd8"]},
          "legend": {"title": null, "orient": "none", "legendX": -34, "legendY": 395, "direction": "horizontal", "symbolType": "stroke", "symbolSize": 2500, "symbolStrokeWidth": 2.5, "labelFontSize": 17.8, "labelOffset": 5, "labelLimit": 400}
        }
      }
    },
    {
      "data": {"name": "steps"},
      "transform": [{"filter": "datum.k === 'Festsatz'"}],
      "mark": {"type": "line", "interpolate": "step-after", "strokeWidth": 2.3},
      "encoding": {
        "x": {"field": "d", "type": "temporal", "title": null},
        "y": {"field": "v", "type": "quantitative"},
        "color": {
          "field": "k", "type": "nominal",
          "scale": {"domain": ["Festsatz"], "range": ["#1270b5"]},
          "legend": {"title": null, "orient": "none", "legendX": 425, "legendY": 367, "direction": "horizontal", "symbolType": "stroke", "symbolSize": 2601, "symbolStrokeWidth": 2.5, "labelFontSize": 17.8, "labelOffset": 3, "labelLimit": 400}
        }
      }
    },
    {
      "data": {"name": "eonia"},
      "mark": {"type": "line", "strokeWidth": 1.1},
      "encoding": {
        "x": {"field": "d", "type": "temporal", "title": null},
        "y": {"field": "v", "type": "quantitative"},
        "color": {
          "datum": "Euro OverNight Index Average (Eonia)",
          "scale": {"domain": ["Euro OverNight Index Average (Eonia)"], "range": ["#a6a6a6"]},
          "legend": {"title": null, "orient": "none", "legendX": 205, "legendY": 400, "direction": "horizontal", "symbolType": "stroke", "symbolSize": 1600, "symbolStrokeWidth": 2, "labelFontSize": 17.8, "labelOffset": 5, "labelLimit": 400}
        }
      }
    },
    {
      "data": {"name": "steps"},
      "transform": [{"filter": "datum.k === 'Einlagesatz'"}],
      "mark": {"type": "line", "interpolate": "step-after", "strokeWidth": 3},
      "encoding": {
        "x": {"field": "d", "type": "temporal", "title": null},
        "y": {"field": "v", "type": "quantitative"},
        "color": {
          "field": "k", "type": "nominal",
          "scale": {"domain": ["Einlagesatz"], "range": ["#111111"]},
          "legend": {"title": null, "orient": "none", "legendX": 225, "legendY": 367, "direction": "horizontal", "symbolType": "stroke", "symbolSize": 2500, "symbolStrokeWidth": 3, "labelFontSize": 17.8, "labelOffset": 5, "labelLimit": 400}
        }
      }
    },
    {
      "data": {"values": [{}]},
      "mark": {"type": "point", "filled": true, "color": "#000000", "opacity": 1, "shape": "M-0.85,1L0,-1L0.85,1Z", "size": 196},
      "encoding": {
        "x": {"datum": {"year": 1999, "month": 1, "date": 1, "utc": true}, "type": "temporal"},
        "y": {"datum": 5.843}
      }
    },
    {
      "data": {"values": [{}]},
      "mark": {"type": "point", "filled": true, "color": "#000000", "opacity": 1, "shape": "M-1,-0.8L1,0L-1,0.8Z", "size": 324},
      "encoding": {
        "x": {"datum": {"year": 2020, "month": 1, "date": 27, "utc": true}, "type": "temporal"},
        "y": {"datum": 0}
      }
    },
    {
      "data": {"name": "years"},
      "mark": {"type": "text", "angle": -45, "align": "right", "baseline": "top", "fontSize": 17, "color": "#1a1a1a", "xOffset": 10, "yOffset": 4},
      "encoding": {
        "x": {"field": "yr", "type": "temporal", "title": null},
        "y": {"datum": -1},
        "text": {"field": "t", "type": "nominal"}
      }
    }
  ],
  "resolve": {"scale": {"color": "independent"}}
}
